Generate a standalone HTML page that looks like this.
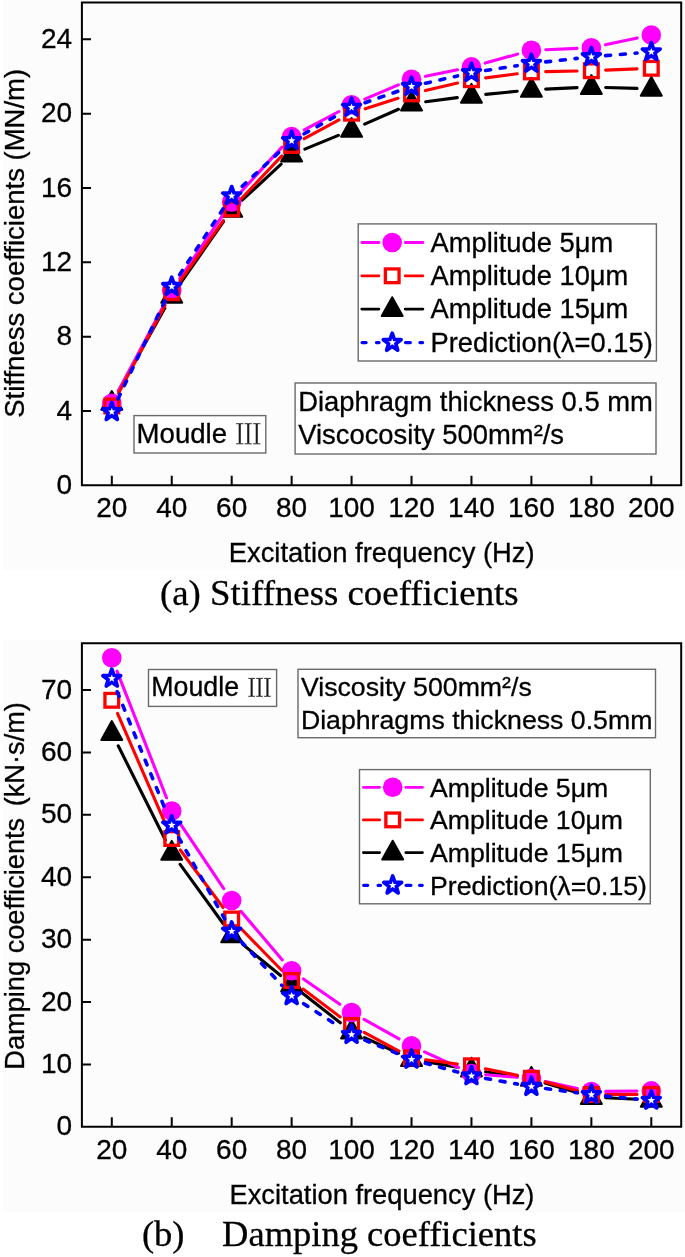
<!DOCTYPE html>
<html><head><meta charset="utf-8"><style>
html,body{margin:0;padding:0;background:#fff;}
svg{display:block;will-change:transform;}
text{font-family:"Liberation Sans",sans-serif;fill:#000;stroke:#000;stroke-width:0.3px;}
</style></head><body>
<svg width="685" height="1257" viewBox="0 0 685 1257" font-family="Liberation Sans">
<rect x="0" y="0" width="685" height="1257" fill="#fff"/>
<rect x="3" y="0" width="682" height="570" fill="#fcfcfc"/>
<rect x="3" y="640" width="682" height="572" fill="#fcfcfc"/>
<path d="M81.9,2.50 H681.2 V485.30 H81.9 Z" fill="none" stroke="#000" stroke-width="2"/>
<path d="M111.80,485.30V475.80M171.74,485.30V475.80M231.69,485.30V475.80M291.63,485.30V475.80M351.58,485.30V475.80M411.52,485.30V475.80M471.46,485.30V475.80M531.41,485.30V475.80M591.35,485.30V475.80M651.30,485.30V475.80M81.9,410.97H91M81.9,336.64H91M81.9,262.30H91M81.9,187.97H91M81.9,113.64H91M81.9,39.31H91" stroke="#000" stroke-width="2" fill="none"/>
<text x="111.80" y="517.30" font-size="28" text-anchor="middle">20</text>
<text x="171.74" y="517.30" font-size="28" text-anchor="middle">40</text>
<text x="231.69" y="517.30" font-size="28" text-anchor="middle">60</text>
<text x="291.63" y="517.30" font-size="28" text-anchor="middle">80</text>
<text x="351.58" y="517.30" font-size="28" text-anchor="middle">100</text>
<text x="411.52" y="517.30" font-size="28" text-anchor="middle">120</text>
<text x="471.46" y="517.30" font-size="28" text-anchor="middle">140</text>
<text x="531.41" y="517.30" font-size="28" text-anchor="middle">160</text>
<text x="591.35" y="517.30" font-size="28" text-anchor="middle">180</text>
<text x="651.30" y="517.30" font-size="28" text-anchor="middle">200</text>
<text x="72.2" y="493.90" font-size="28" text-anchor="end">0</text>
<text x="72.2" y="419.57" font-size="28" text-anchor="end">4</text>
<text x="72.2" y="345.24" font-size="28" text-anchor="end">8</text>
<text x="72.2" y="270.90" font-size="28" text-anchor="end">12</text>
<text x="72.2" y="196.57" font-size="28" text-anchor="end">16</text>
<text x="72.2" y="122.24" font-size="28" text-anchor="end">20</text>
<text x="72.2" y="47.91" font-size="28" text-anchor="end">24</text>
<path d="M118.78,390.42L164.76,308.28M179.93,284.07L223.50,221.63M242.19,200.19L281.13,164.21M304.86,149.07L338.35,135.33M364.66,124.14L398.43,109.26M425.70,101.68L457.28,97.62M485.69,94.38L517.18,91.22M545.69,89.13L577.07,87.67M605.65,87.43L637.00,88.37" fill="none" stroke="#000000" stroke-width="3.1" stroke-linecap="round"/>
<path d="M111.80,391.00 L122.30,409.80 L101.30,409.80 Z" fill="#000000" stroke="#000000" stroke-width="2.0" stroke-linejoin="round"/>
<path d="M171.74,283.90 L182.24,302.70 L161.24,302.70 Z" fill="#000000" stroke="#000000" stroke-width="2.0" stroke-linejoin="round"/>
<path d="M231.69,198.00 L242.19,216.80 L221.19,216.80 Z" fill="#000000" stroke="#000000" stroke-width="2.0" stroke-linejoin="round"/>
<path d="M291.63,142.60 L302.13,161.40 L281.13,161.40 Z" fill="#000000" stroke="#000000" stroke-width="2.0" stroke-linejoin="round"/>
<path d="M351.58,118.00 L362.08,136.80 L341.08,136.80 Z" fill="#000000" stroke="#000000" stroke-width="2.0" stroke-linejoin="round"/>
<path d="M411.52,91.60 L422.02,110.40 L401.02,110.40 Z" fill="#000000" stroke="#000000" stroke-width="2.0" stroke-linejoin="round"/>
<path d="M471.46,83.90 L481.96,102.70 L460.96,102.70 Z" fill="#000000" stroke="#000000" stroke-width="2.0" stroke-linejoin="round"/>
<path d="M531.41,77.90 L541.91,96.70 L520.91,96.70 Z" fill="#000000" stroke="#000000" stroke-width="2.0" stroke-linejoin="round"/>
<path d="M591.35,75.10 L601.85,93.90 L580.85,93.90 Z" fill="#000000" stroke="#000000" stroke-width="2.0" stroke-linejoin="round"/>
<path d="M651.30,76.90 L661.80,95.70 L640.80,95.70 Z" fill="#000000" stroke="#000000" stroke-width="2.0" stroke-linejoin="round"/>
<path d="M118.50,390.77L165.04,303.03M179.77,278.56L223.66,213.84M241.35,191.46L281.97,147.14M304.26,129.90L338.94,111.50M364.73,99.18L398.37,84.82M425.53,76.33L457.46,69.77M485.25,63.08L517.63,54.12M545.70,49.70L577.06,48.40M605.33,44.80L637.31,37.95" fill="none" stroke="#ff00ff" stroke-width="3.1" stroke-linecap="round"/>
<circle cx="111.80" cy="403.40" r="9.8" fill="#ff00ff"/>
<circle cx="171.74" cy="290.40" r="9.8" fill="#ff00ff"/>
<circle cx="231.69" cy="202.00" r="9.8" fill="#ff00ff"/>
<circle cx="291.63" cy="136.60" r="9.8" fill="#ff00ff"/>
<circle cx="351.58" cy="104.80" r="9.8" fill="#ff00ff"/>
<circle cx="411.52" cy="79.20" r="9.8" fill="#ff00ff"/>
<circle cx="471.46" cy="66.90" r="9.8" fill="#ff00ff"/>
<circle cx="531.41" cy="50.30" r="9.8" fill="#ff00ff"/>
<circle cx="591.35" cy="47.80" r="9.8" fill="#ff00ff"/>
<circle cx="651.30" cy="34.95" r="9.8" fill="#ff00ff"/>
<path d="M118.49,393.36L165.06,305.34M180.06,281.07L223.37,220.53M241.51,198.51L281.81,155.89M304.22,138.72L338.99,119.98M365.19,108.82L397.91,98.28M425.43,90.60L457.55,83.00M485.64,77.85L517.23,73.75M545.71,71.61L577.05,70.99M605.64,70.13L637.01,68.87" fill="none" stroke="#ff0000" stroke-width="3.1" stroke-linecap="round"/>
<rect x="104.95" y="399.15" width="13.7" height="13.7" fill="none" stroke="#ff0000" stroke-width="3.3"/>
<rect x="164.89" y="285.85" width="13.7" height="13.7" fill="none" stroke="#ff0000" stroke-width="3.3"/>
<rect x="224.84" y="202.05" width="13.7" height="13.7" fill="none" stroke="#ff0000" stroke-width="3.3"/>
<rect x="284.78" y="138.65" width="13.7" height="13.7" fill="none" stroke="#ff0000" stroke-width="3.3"/>
<rect x="344.73" y="106.35" width="13.7" height="13.7" fill="none" stroke="#ff0000" stroke-width="3.3"/>
<rect x="404.67" y="87.05" width="13.7" height="13.7" fill="none" stroke="#ff0000" stroke-width="3.3"/>
<rect x="464.61" y="72.85" width="13.7" height="13.7" fill="none" stroke="#ff0000" stroke-width="3.3"/>
<rect x="524.56" y="65.05" width="13.7" height="13.7" fill="none" stroke="#ff0000" stroke-width="3.3"/>
<rect x="584.50" y="63.85" width="13.7" height="13.7" fill="none" stroke="#ff0000" stroke-width="3.3"/>
<rect x="644.45" y="61.45" width="13.7" height="13.7" fill="none" stroke="#ff0000" stroke-width="3.3"/>
<path d="M117.98,398.90L165.57,299.50M179.63,274.67L223.80,207.83M242.21,186.21L281.11,150.39M304.13,133.76L339.08,114.34M365.08,102.69L398.02,91.21M425.46,83.29L457.53,75.91M485.60,70.53L517.27,65.67M545.62,61.91L577.14,58.39M605.60,55.63L637.04,53.07" fill="none" stroke="#0000ff" stroke-width="3.6" stroke-dasharray="5 9.8" stroke-linecap="round"/>
<polygon points="111.80,402.50 113.97,408.81 120.64,408.93 115.32,412.94 117.27,419.32 111.80,415.50 106.33,419.32 108.28,412.94 102.96,408.93 109.63,408.81" fill="#0000ff" stroke="#0000ff" stroke-width="3.8" stroke-linejoin="round"/><polygon points="111.80,407.80 112.80,410.42 115.60,410.56 113.42,412.33 114.15,415.04 111.80,413.50 109.45,415.04 110.18,412.33 108.00,410.56 110.80,410.42" fill="#fff"/>
<polygon points="171.74,277.30 173.92,283.61 180.59,283.73 175.26,287.74 177.21,294.12 171.74,290.30 166.28,294.12 168.23,287.74 162.90,283.73 169.57,283.61" fill="#0000ff" stroke="#0000ff" stroke-width="3.8" stroke-linejoin="round"/><polygon points="171.74,282.60 172.74,285.22 175.55,285.36 173.36,287.13 174.10,289.84 171.74,288.30 169.39,289.84 170.13,287.13 167.94,285.36 170.74,285.22" fill="#fff"/>
<polygon points="231.69,186.60 233.86,192.91 240.53,193.03 235.21,197.04 237.15,203.42 231.69,199.60 226.22,203.42 228.17,197.04 222.84,193.03 229.51,192.91" fill="#0000ff" stroke="#0000ff" stroke-width="3.8" stroke-linejoin="round"/><polygon points="231.69,191.90 232.69,194.52 235.49,194.66 233.30,196.43 234.04,199.14 231.69,197.60 229.34,199.14 230.07,196.43 227.88,194.66 230.69,194.52" fill="#fff"/>
<polygon points="291.63,131.40 293.81,137.71 300.48,137.83 295.15,141.84 297.10,148.22 291.63,144.40 286.17,148.22 288.11,141.84 282.79,137.83 289.46,137.71" fill="#0000ff" stroke="#0000ff" stroke-width="3.8" stroke-linejoin="round"/><polygon points="291.63,136.70 292.63,139.32 295.44,139.46 293.25,141.23 293.98,143.94 291.63,142.40 289.28,143.94 290.02,141.23 287.83,139.46 290.63,139.32" fill="#fff"/>
<polygon points="351.58,98.10 353.75,104.41 360.42,104.53 355.09,108.54 357.04,114.92 351.58,111.10 346.11,114.92 348.06,108.54 342.73,104.53 349.40,104.41" fill="#0000ff" stroke="#0000ff" stroke-width="3.8" stroke-linejoin="round"/><polygon points="351.58,103.40 352.58,106.02 355.38,106.16 353.19,107.93 353.93,110.64 351.58,109.10 349.22,110.64 349.96,107.93 347.77,106.16 350.58,106.02" fill="#fff"/>
<polygon points="411.52,77.20 413.69,83.51 420.36,83.63 415.04,87.64 416.99,94.02 411.52,90.20 406.05,94.02 408.00,87.64 402.68,83.63 409.35,83.51" fill="#0000ff" stroke="#0000ff" stroke-width="3.8" stroke-linejoin="round"/><polygon points="411.52,82.50 412.52,85.12 415.32,85.26 413.14,87.03 413.87,89.74 411.52,88.20 409.17,89.74 409.90,87.03 407.72,85.26 410.52,85.12" fill="#fff"/>
<polygon points="471.46,63.40 473.64,69.71 480.31,69.83 474.98,73.84 476.93,80.22 471.46,76.40 466.00,80.22 467.95,73.84 462.62,69.83 469.29,69.71" fill="#0000ff" stroke="#0000ff" stroke-width="3.8" stroke-linejoin="round"/><polygon points="471.46,68.70 472.46,71.32 475.27,71.46 473.08,73.23 473.82,75.94 471.46,74.40 469.11,75.94 469.85,73.23 467.66,71.46 470.46,71.32" fill="#fff"/>
<polygon points="531.41,54.20 533.58,60.51 540.25,60.63 534.93,64.64 536.87,71.02 531.41,67.20 525.94,71.02 527.89,64.64 522.56,60.63 529.23,60.51" fill="#0000ff" stroke="#0000ff" stroke-width="3.8" stroke-linejoin="round"/><polygon points="531.41,59.50 532.41,62.12 535.21,62.26 533.02,64.03 533.76,66.74 531.41,65.20 529.06,66.74 529.79,64.03 527.60,62.26 530.41,62.12" fill="#fff"/>
<polygon points="591.35,47.50 593.53,53.81 600.20,53.93 594.87,57.94 596.82,64.32 591.35,60.50 585.89,64.32 587.83,57.94 582.51,53.93 589.18,53.81" fill="#0000ff" stroke="#0000ff" stroke-width="3.8" stroke-linejoin="round"/><polygon points="591.35,52.80 592.35,55.42 595.16,55.56 592.97,57.33 593.70,60.04 591.35,58.50 589.00,60.04 589.74,57.33 587.55,55.56 590.35,55.42" fill="#fff"/>
<polygon points="651.30,42.60 653.47,48.91 660.14,49.03 654.81,53.04 656.76,59.42 651.30,55.60 645.83,59.42 647.78,53.04 642.45,49.03 649.12,48.91" fill="#0000ff" stroke="#0000ff" stroke-width="3.8" stroke-linejoin="round"/><polygon points="651.30,47.90 652.30,50.52 655.10,50.66 652.91,52.43 653.65,55.14 651.30,53.60 648.94,55.14 649.68,52.43 647.49,50.66 650.30,50.52" fill="#fff"/>
<text transform="translate(23.5,243.3) rotate(-90)" font-size="27.5" text-anchor="middle">Stiffness coefficients (MN/m)</text>
<text x="228.7" y="562.3" font-size="27.4">Excitation frequency (Hz)</text>
<text x="160.0" y="605.3" font-size="36.85" style="font-family:'Liberation Serif',serif">(a) Stiffness coefficients</text>
<rect x="358.20" y="223.90" width="298.20" height="137.10" fill="#fff" stroke="#6a6a6a" stroke-width="1.4"/>
<path d="M361.80,242.50H378.90M405.20,242.50H422.90" stroke="#ff00ff" stroke-width="2.8" stroke-linecap="round" fill="none"/>
<circle cx="392.20" cy="242.50" r="9.8" fill="#ff00ff"/>
<text x="430.5" y="251.60" font-size="27.3">Amplitude 5μm</text>
<path d="M361.80,275.80H378.90M405.20,275.80H422.90" stroke="#ff0000" stroke-width="2.8" stroke-linecap="round" fill="none"/>
<rect x="385.35" y="268.95" width="13.7" height="13.7" fill="none" stroke="#ff0000" stroke-width="3.3"/>
<text x="430.5" y="284.90" font-size="27.3">Amplitude 10μm</text>
<path d="M361.80,309.10H378.90M405.20,309.10H422.90" stroke="#000000" stroke-width="2.8" stroke-linecap="round" fill="none"/>
<path d="M392.20,297.20 L402.70,316.00 L381.70,316.00 Z" fill="#000000" stroke="#000000" stroke-width="2.0" stroke-linejoin="round"/>
<text x="430.5" y="318.20" font-size="27.3">Amplitude 15μm</text>
<path d="M362.10,342.60H366.10M376.50,342.60H379.00M405.50,342.60H410.30M420.00,342.60H422.60" stroke="#0000ff" stroke-width="3.3" stroke-linecap="round" fill="none"/>
<polygon points="392.20,333.30 394.37,339.61 401.04,339.73 395.72,343.74 397.67,350.12 392.20,346.30 386.73,350.12 388.68,343.74 383.36,339.73 390.03,339.61" fill="#0000ff" stroke="#0000ff" stroke-width="3.8" stroke-linejoin="round"/><polygon points="392.20,338.60 393.20,341.22 396.00,341.36 393.82,343.13 394.55,345.84 392.20,344.30 389.85,345.84 390.58,343.13 388.40,341.36 391.20,341.22" fill="#fff"/>
<text x="430.5" y="351.70" font-size="27.3">Prediction(λ=0.15)</text>
<rect x="134.0" y="415.6" width="131.8" height="37.4" fill="#fff" stroke="#6a6a6a" stroke-width="1.4"/>
<text x="136.6" y="443.2" font-size="27.6">Moudle</text>
<path d="M239.75,424.00V443.50" stroke="#1a1a1a" stroke-width="2.1"/><path d="M236.10,423.70H243.40M236.10,443.80H243.40" stroke="#1a1a1a" stroke-width="0.9"/><path d="M248.25,424.00V443.50" stroke="#1a1a1a" stroke-width="2.1"/><path d="M244.60,423.70H251.90M244.60,443.80H251.90" stroke="#1a1a1a" stroke-width="0.9"/><path d="M256.75,424.00V443.50" stroke="#1a1a1a" stroke-width="2.1"/><path d="M253.10,423.70H260.40M253.10,443.80H260.40" stroke="#1a1a1a" stroke-width="0.9"/>
<rect x="295.1" y="383.0" width="360.9" height="71.0" fill="#fff" stroke="#6a6a6a" stroke-width="1.4"/>
<text x="298.2" y="410.6" font-size="27.4">Diaphragm thickness 0.5 mm</text>
<text x="298.2" y="444.1" font-size="27.4">Viscocosity 500mm²/s</text>
<path d="M81.9,643.30 H681.2 V1126.80 H81.9 Z" fill="none" stroke="#000" stroke-width="2"/>
<path d="M111.80,1126.80V1117.30M171.74,1126.80V1117.30M231.69,1126.80V1117.30M291.63,1126.80V1117.30M351.58,1126.80V1117.30M411.52,1126.80V1117.30M471.46,1126.80V1117.30M531.41,1126.80V1117.30M591.35,1126.80V1117.30M651.30,1126.80V1117.30M81.9,1064.41H91M81.9,1002.02H91M81.9,939.63H91M81.9,877.24H91M81.9,814.85H91M81.9,752.46H91M81.9,690.07H91" stroke="#000" stroke-width="2" fill="none"/>
<text x="111.80" y="1158.80" font-size="28" text-anchor="middle">20</text>
<text x="171.74" y="1158.80" font-size="28" text-anchor="middle">40</text>
<text x="231.69" y="1158.80" font-size="28" text-anchor="middle">60</text>
<text x="291.63" y="1158.80" font-size="28" text-anchor="middle">80</text>
<text x="351.58" y="1158.80" font-size="28" text-anchor="middle">100</text>
<text x="411.52" y="1158.80" font-size="28" text-anchor="middle">120</text>
<text x="471.46" y="1158.80" font-size="28" text-anchor="middle">140</text>
<text x="531.41" y="1158.80" font-size="28" text-anchor="middle">160</text>
<text x="591.35" y="1158.80" font-size="28" text-anchor="middle">180</text>
<text x="651.30" y="1158.80" font-size="28" text-anchor="middle">200</text>
<text x="72.2" y="1135.40" font-size="28" text-anchor="end">0</text>
<text x="72.2" y="1073.01" font-size="28" text-anchor="end">10</text>
<text x="72.2" y="1010.62" font-size="28" text-anchor="end">20</text>
<text x="72.2" y="948.23" font-size="28" text-anchor="end">30</text>
<text x="72.2" y="885.84" font-size="28" text-anchor="end">40</text>
<text x="72.2" y="823.45" font-size="28" text-anchor="end">50</text>
<text x="72.2" y="761.06" font-size="28" text-anchor="end">60</text>
<text x="72.2" y="698.67" font-size="28" text-anchor="end">70</text>
<path d="M118.20,745.79L165.35,840.01M180.15,864.37L223.28,923.73M242.73,944.38L280.59,975.52M302.89,993.42L340.32,1022.78M364.57,1037.58L398.53,1053.22M425.61,1061.64L457.37,1067.16M485.60,1071.77L517.27,1076.63M545.09,1082.95L577.67,1092.85M605.64,1097.69L637.01,1099.21" fill="none" stroke="#000000" stroke-width="3.1" stroke-linecap="round"/>
<path d="M111.80,721.10 L122.30,739.90 L101.30,739.90 Z" fill="#000000" stroke="#000000" stroke-width="2.0" stroke-linejoin="round"/>
<path d="M171.74,840.90 L182.24,859.70 L161.24,859.70 Z" fill="#000000" stroke="#000000" stroke-width="2.0" stroke-linejoin="round"/>
<path d="M231.69,923.40 L242.19,942.20 L221.19,942.20 Z" fill="#000000" stroke="#000000" stroke-width="2.0" stroke-linejoin="round"/>
<path d="M291.63,972.70 L302.13,991.50 L281.13,991.50 Z" fill="#000000" stroke="#000000" stroke-width="2.0" stroke-linejoin="round"/>
<path d="M351.58,1019.70 L362.08,1038.50 L341.08,1038.50 Z" fill="#000000" stroke="#000000" stroke-width="2.0" stroke-linejoin="round"/>
<path d="M411.52,1047.30 L422.02,1066.10 L401.02,1066.10 Z" fill="#000000" stroke="#000000" stroke-width="2.0" stroke-linejoin="round"/>
<path d="M471.46,1057.70 L481.96,1076.50 L460.96,1076.50 Z" fill="#000000" stroke="#000000" stroke-width="2.0" stroke-linejoin="round"/>
<path d="M531.41,1066.90 L541.91,1085.70 L520.91,1085.70 Z" fill="#000000" stroke="#000000" stroke-width="2.0" stroke-linejoin="round"/>
<path d="M591.35,1085.10 L601.85,1103.90 L580.85,1103.90 Z" fill="#000000" stroke="#000000" stroke-width="2.0" stroke-linejoin="round"/>
<path d="M651.30,1088.00 L661.80,1106.80 L640.80,1106.80 Z" fill="#000000" stroke="#000000" stroke-width="2.0" stroke-linejoin="round"/>
<path d="M117.01,671.12L166.53,797.73M179.70,822.93L223.73,888.62M240.97,911.38L282.35,959.92M303.37,978.97L339.84,1004.33M364.07,1019.46L399.03,1038.94M424.51,1051.88L458.47,1067.52M485.71,1074.69L517.16,1077.31M545.38,1081.53L577.38,1088.47M605.65,1091.36L637.00,1091.04" fill="none" stroke="#ff00ff" stroke-width="3.1" stroke-linecap="round"/>
<circle cx="111.80" cy="657.80" r="9.8" fill="#ff00ff"/>
<circle cx="171.74" cy="811.05" r="9.8" fill="#ff00ff"/>
<circle cx="231.69" cy="900.50" r="9.8" fill="#ff00ff"/>
<circle cx="291.63" cy="970.80" r="9.8" fill="#ff00ff"/>
<circle cx="351.58" cy="1012.50" r="9.8" fill="#ff00ff"/>
<circle cx="411.52" cy="1045.90" r="9.8" fill="#ff00ff"/>
<circle cx="471.46" cy="1073.50" r="9.8" fill="#ff00ff"/>
<circle cx="531.41" cy="1078.50" r="9.8" fill="#ff00ff"/>
<circle cx="591.35" cy="1091.50" r="9.8" fill="#ff00ff"/>
<circle cx="651.30" cy="1090.90" r="9.8" fill="#ff00ff"/>
<path d="M117.49,713.42L166.05,825.38M180.28,849.97L223.15,907.53M241.67,929.24L281.65,970.26M303.07,989.09L340.14,1016.91M364.16,1032.30L398.94,1051.10M425.70,1059.77L457.29,1063.93M485.46,1068.72L517.41,1075.38M545.21,1082.03L577.55,1090.77M605.65,1094.48L637.00,1094.42" fill="none" stroke="#ff0000" stroke-width="3.1" stroke-linecap="round"/>
<rect x="104.95" y="693.45" width="13.7" height="13.7" fill="none" stroke="#ff0000" stroke-width="3.3"/>
<rect x="164.89" y="831.65" width="13.7" height="13.7" fill="none" stroke="#ff0000" stroke-width="3.3"/>
<rect x="224.84" y="912.15" width="13.7" height="13.7" fill="none" stroke="#ff0000" stroke-width="3.3"/>
<rect x="284.78" y="973.65" width="13.7" height="13.7" fill="none" stroke="#ff0000" stroke-width="3.3"/>
<rect x="344.73" y="1018.65" width="13.7" height="13.7" fill="none" stroke="#ff0000" stroke-width="3.3"/>
<rect x="404.67" y="1051.05" width="13.7" height="13.7" fill="none" stroke="#ff0000" stroke-width="3.3"/>
<rect x="464.61" y="1058.95" width="13.7" height="13.7" fill="none" stroke="#ff0000" stroke-width="3.3"/>
<rect x="524.56" y="1071.45" width="13.7" height="13.7" fill="none" stroke="#ff0000" stroke-width="3.3"/>
<rect x="584.50" y="1087.65" width="13.7" height="13.7" fill="none" stroke="#ff0000" stroke-width="3.3"/>
<rect x="644.45" y="1087.55" width="13.7" height="13.7" fill="none" stroke="#ff0000" stroke-width="3.3"/>
<path d="M117.21,691.74L166.33,811.96M178.78,837.65L224.65,918.85M241.41,941.78L281.91,985.42M303.65,1003.66L339.56,1026.84M364.79,1040.07L398.31,1053.93M425.31,1063.20L457.68,1072.10M485.54,1078.41L517.33,1084.09M545.58,1088.51L577.18,1092.79M605.59,1096.05L637.06,1099.05" fill="none" stroke="#0000ff" stroke-width="3.6" stroke-dasharray="5 9.8" stroke-linecap="round"/>
<polygon points="111.80,669.20 113.97,675.51 120.64,675.63 115.32,679.64 117.27,686.02 111.80,682.20 106.33,686.02 108.28,679.64 102.96,675.63 109.63,675.51" fill="#0000ff" stroke="#0000ff" stroke-width="3.8" stroke-linejoin="round"/><polygon points="111.80,674.50 112.80,677.12 115.60,677.26 113.42,679.03 114.15,681.74 111.80,680.20 109.45,681.74 110.18,679.03 108.00,677.26 110.80,677.12" fill="#fff"/>
<polygon points="171.74,815.90 173.92,822.21 180.59,822.33 175.26,826.34 177.21,832.72 171.74,828.90 166.28,832.72 168.23,826.34 162.90,822.33 169.57,822.21" fill="#0000ff" stroke="#0000ff" stroke-width="3.8" stroke-linejoin="round"/><polygon points="171.74,821.20 172.74,823.82 175.55,823.96 173.36,825.73 174.10,828.44 171.74,826.90 169.39,828.44 170.13,825.73 167.94,823.96 170.74,823.82" fill="#fff"/>
<polygon points="231.69,922.00 233.86,928.31 240.53,928.43 235.21,932.44 237.15,938.82 231.69,935.00 226.22,938.82 228.17,932.44 222.84,928.43 229.51,928.31" fill="#0000ff" stroke="#0000ff" stroke-width="3.8" stroke-linejoin="round"/><polygon points="231.69,927.30 232.69,929.92 235.49,930.06 233.30,931.83 234.04,934.54 231.69,933.00 229.34,934.54 230.07,931.83 227.88,930.06 230.69,929.92" fill="#fff"/>
<polygon points="291.63,986.60 293.81,992.91 300.48,993.03 295.15,997.04 297.10,1003.42 291.63,999.60 286.17,1003.42 288.11,997.04 282.79,993.03 289.46,992.91" fill="#0000ff" stroke="#0000ff" stroke-width="3.8" stroke-linejoin="round"/><polygon points="291.63,991.90 292.63,994.52 295.44,994.66 293.25,996.43 293.98,999.14 291.63,997.60 289.28,999.14 290.02,996.43 287.83,994.66 290.63,994.52" fill="#fff"/>
<polygon points="351.58,1025.30 353.75,1031.61 360.42,1031.73 355.09,1035.74 357.04,1042.12 351.58,1038.30 346.11,1042.12 348.06,1035.74 342.73,1031.73 349.40,1031.61" fill="#0000ff" stroke="#0000ff" stroke-width="3.8" stroke-linejoin="round"/><polygon points="351.58,1030.60 352.58,1033.22 355.38,1033.36 353.19,1035.13 353.93,1037.84 351.58,1036.30 349.22,1037.84 349.96,1035.13 347.77,1033.36 350.58,1033.22" fill="#fff"/>
<polygon points="411.52,1050.10 413.69,1056.41 420.36,1056.53 415.04,1060.54 416.99,1066.92 411.52,1063.10 406.05,1066.92 408.00,1060.54 402.68,1056.53 409.35,1056.41" fill="#0000ff" stroke="#0000ff" stroke-width="3.8" stroke-linejoin="round"/><polygon points="411.52,1055.40 412.52,1058.02 415.32,1058.16 413.14,1059.93 413.87,1062.64 411.52,1061.10 409.17,1062.64 409.90,1059.93 407.72,1058.16 410.52,1058.02" fill="#fff"/>
<polygon points="471.46,1066.60 473.64,1072.91 480.31,1073.03 474.98,1077.04 476.93,1083.42 471.46,1079.60 466.00,1083.42 467.95,1077.04 462.62,1073.03 469.29,1072.91" fill="#0000ff" stroke="#0000ff" stroke-width="3.8" stroke-linejoin="round"/><polygon points="471.46,1071.90 472.46,1074.52 475.27,1074.66 473.08,1076.43 473.82,1079.14 471.46,1077.60 469.11,1079.14 469.85,1076.43 467.66,1074.66 470.46,1074.52" fill="#fff"/>
<polygon points="531.41,1077.30 533.58,1083.61 540.25,1083.73 534.93,1087.74 536.87,1094.12 531.41,1090.30 525.94,1094.12 527.89,1087.74 522.56,1083.73 529.23,1083.61" fill="#0000ff" stroke="#0000ff" stroke-width="3.8" stroke-linejoin="round"/><polygon points="531.41,1082.60 532.41,1085.22 535.21,1085.36 533.02,1087.13 533.76,1089.84 531.41,1088.30 529.06,1089.84 529.79,1087.13 527.60,1085.36 530.41,1085.22" fill="#fff"/>
<polygon points="591.35,1085.40 593.53,1091.71 600.20,1091.83 594.87,1095.84 596.82,1102.22 591.35,1098.40 585.89,1102.22 587.83,1095.84 582.51,1091.83 589.18,1091.71" fill="#0000ff" stroke="#0000ff" stroke-width="3.8" stroke-linejoin="round"/><polygon points="591.35,1090.70 592.35,1093.32 595.16,1093.46 592.97,1095.23 593.70,1097.94 591.35,1096.40 589.00,1097.94 589.74,1095.23 587.55,1093.46 590.35,1093.32" fill="#fff"/>
<polygon points="651.30,1091.10 653.47,1097.41 660.14,1097.53 654.81,1101.54 656.76,1107.92 651.30,1104.10 645.83,1107.92 647.78,1101.54 642.45,1097.53 649.12,1097.41" fill="#0000ff" stroke="#0000ff" stroke-width="3.8" stroke-linejoin="round"/><polygon points="651.30,1096.40 652.30,1099.02 655.10,1099.16 652.91,1100.93 653.65,1103.64 651.30,1102.10 648.94,1103.64 649.68,1100.93 647.49,1099.16 650.30,1099.02" fill="#fff"/>
<text transform="translate(23.5,885.9) rotate(-90)" font-size="27.2" text-anchor="middle">Damping coefficients<tspan dx="4"> </tspan>(kN·s/m)</text>
<text x="229.5" y="1203.8" font-size="27.3">Excitation frequency (Hz)</text>
<text x="141.9" y="1246.4" font-size="36.5" style="font-family:'Liberation Serif',serif">(b)</text>
<text x="222.1" y="1246.4" font-size="36.5" style="font-family:'Liberation Serif',serif">Damping coefficients</text>
<rect x="359.50" y="769.60" width="290.80" height="134.20" fill="#fff" stroke="#6a6a6a" stroke-width="1.4"/>
<path d="M363.40,787.30H379.60M405.80,787.30H422.50" stroke="#ff00ff" stroke-width="2.8" stroke-linecap="round" fill="none"/>
<circle cx="392.70" cy="787.30" r="9.8" fill="#ff00ff"/>
<text x="430.0" y="796.60" font-size="26.65">Amplitude 5μm</text>
<path d="M363.40,819.90H379.60M405.80,819.90H422.50" stroke="#ff0000" stroke-width="2.8" stroke-linecap="round" fill="none"/>
<rect x="385.85" y="813.05" width="13.7" height="13.7" fill="none" stroke="#ff0000" stroke-width="3.3"/>
<text x="430.0" y="829.20" font-size="26.65">Amplitude 10μm</text>
<path d="M363.40,852.60H379.60M405.80,852.60H422.50" stroke="#000000" stroke-width="2.8" stroke-linecap="round" fill="none"/>
<path d="M392.70,840.70 L403.20,859.50 L382.20,859.50 Z" fill="#000000" stroke="#000000" stroke-width="2.0" stroke-linejoin="round"/>
<text x="430.0" y="861.90" font-size="26.65">Amplitude 15μm</text>
<path d="M363.70,885.30H367.70M378.10,885.30H380.60M406.10,885.30H410.90M419.60,885.30H422.20" stroke="#0000ff" stroke-width="3.3" stroke-linecap="round" fill="none"/>
<polygon points="392.70,876.00 394.87,882.31 401.54,882.43 396.22,886.44 398.17,892.82 392.70,889.00 387.23,892.82 389.18,886.44 383.86,882.43 390.53,882.31" fill="#0000ff" stroke="#0000ff" stroke-width="3.8" stroke-linejoin="round"/><polygon points="392.70,881.30 393.70,883.92 396.50,884.06 394.32,885.83 395.05,888.54 392.70,887.00 390.35,888.54 391.08,885.83 388.90,884.06 391.70,883.92" fill="#fff"/>
<text x="430.0" y="894.60" font-size="26.65">Prediction(λ=0.15)</text>
<rect x="148.5" y="669.5" width="128.1" height="36.9" fill="#fff" stroke="#6a6a6a" stroke-width="1.4"/>
<text x="151.3" y="696.3" font-size="26.75">Moudle</text>
<path d="M251.65,678.70V696.00" stroke="#1a1a1a" stroke-width="2.1"/><path d="M248.30,678.40H255.00M248.30,696.30H255.00" stroke="#1a1a1a" stroke-width="0.9"/><path d="M259.55,678.70V696.00" stroke="#1a1a1a" stroke-width="2.1"/><path d="M256.20,678.40H262.90M256.20,696.30H262.90" stroke="#1a1a1a" stroke-width="0.9"/><path d="M267.45,678.70V696.00" stroke="#1a1a1a" stroke-width="2.1"/><path d="M264.10,678.40H270.80M264.10,696.30H270.80" stroke="#1a1a1a" stroke-width="0.9"/>
<rect x="298.0" y="669.3" width="357.5" height="68.4" fill="#fff" stroke="#6a6a6a" stroke-width="1.4"/>
<text x="300.9" y="695.6" font-size="26.7">Viscosity 500mm²/s</text>
<text x="300.9" y="728.5" font-size="26.7">Diaphragms thickness 0.5mm</text>
</svg></body></html>
